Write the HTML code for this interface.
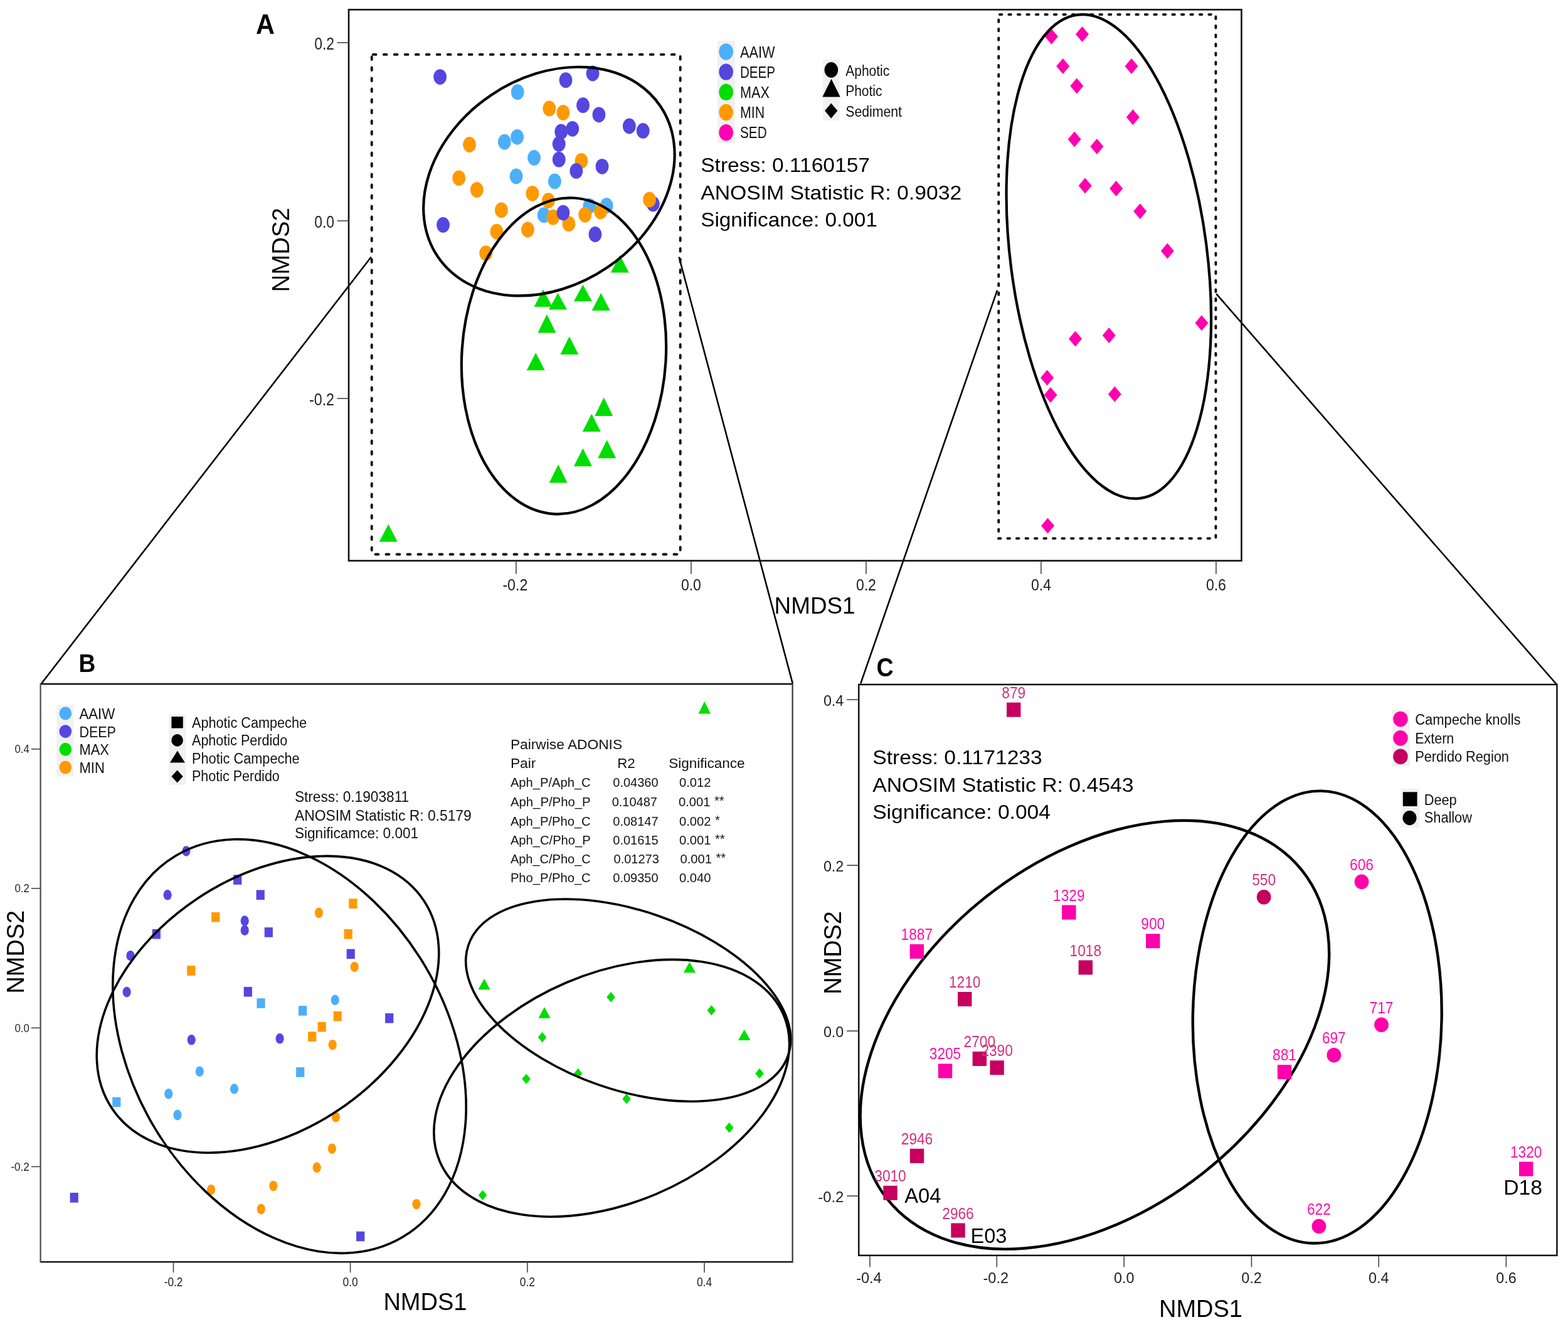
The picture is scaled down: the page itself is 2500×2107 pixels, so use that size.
<!DOCTYPE html><html><head><meta charset="utf-8"><title>NMDS</title><style>html,body{margin:0;padding:0;background:#fff;overflow:hidden}svg{display:block}text{font-family:"Liberation Sans",Arial,sans-serif}</style></head><body>
<svg width="2500" height="2107" viewBox="0 0 2500 2107">
<rect width="2500" height="2107" fill="#fff"/>
<line x1="591.8" y1="409.5" x2="66" y2="1089.5" stroke="#000" stroke-width="2.6"/>
<line x1="1082.6" y1="409.5" x2="1263.8" y2="1089.4" stroke="#000" stroke-width="2.6"/>
<line x1="1590" y1="462.6" x2="1372.2" y2="1089.4" stroke="#000" stroke-width="2.6"/>
<line x1="1939.3" y1="468.4" x2="2482" y2="1091" stroke="#000" stroke-width="2.6"/>
<rect x="556" y="15.4" width="1423.4" height="878.3" fill="none" stroke="#111" stroke-width="2.6"/>
<rect x="592.7" y="86.9" width="492" height="796.6" fill="none" stroke="#000" stroke-width="3.8" stroke-linecap="round" stroke-dasharray="4.8 12.2" stroke-dashoffset="-2"/>
<rect x="1592.2" y="23.1" width="346.2" height="835" fill="none" stroke="#000" stroke-width="3.8" stroke-linecap="round" stroke-dasharray="3.6 10.9" stroke-dashoffset="-1.6"/>
<line x1="537.5" y1="68" x2="556" y2="68" stroke="#444" stroke-width="1.6"/>
<line x1="537.5" y1="352" x2="556" y2="352" stroke="#444" stroke-width="1.6"/>
<line x1="537.5" y1="635.1" x2="556" y2="635.1" stroke="#444" stroke-width="1.6"/>
<line x1="822.9" y1="894.5" x2="822.9" y2="914.7" stroke="#444" stroke-width="1.6"/>
<line x1="1101.9" y1="894.5" x2="1101.9" y2="914.7" stroke="#444" stroke-width="1.6"/>
<line x1="1380.9" y1="894.5" x2="1380.9" y2="914.7" stroke="#444" stroke-width="1.6"/>
<line x1="1659.9" y1="894.5" x2="1659.9" y2="914.7" stroke="#444" stroke-width="1.6"/>
<line x1="1938.9" y1="894.5" x2="1938.9" y2="914.7" stroke="#444" stroke-width="1.6"/>
<text x="533" y="79.4" font-size="27" textLength="31.7" lengthAdjust="spacingAndGlyphs" text-anchor="end" fill="#222">0.2</text>
<text x="533" y="362.8" font-size="27" textLength="31.7" lengthAdjust="spacingAndGlyphs" text-anchor="end" fill="#222">0.0</text>
<text x="533" y="646.4" font-size="27" textLength="40" lengthAdjust="spacingAndGlyphs" text-anchor="end" fill="#222">-0.2</text>
<text x="821.4" y="941" font-size="26.5" textLength="40" lengthAdjust="spacingAndGlyphs" text-anchor="middle" fill="#222">-0.2</text>
<text x="1101.9" y="941" font-size="26.5" textLength="32" lengthAdjust="spacingAndGlyphs" text-anchor="middle" fill="#222">0.0</text>
<text x="1380.9" y="941" font-size="26.5" textLength="32" lengthAdjust="spacingAndGlyphs" text-anchor="middle" fill="#222">0.2</text>
<text x="1659.9" y="941" font-size="26.5" textLength="32" lengthAdjust="spacingAndGlyphs" text-anchor="middle" fill="#222">0.4</text>
<text x="1938.9" y="941" font-size="26.5" textLength="32" lengthAdjust="spacingAndGlyphs" text-anchor="middle" fill="#222">0.6</text>
<text x="1234.6" y="978.4" font-size="37.5" textLength="129" lengthAdjust="spacingAndGlyphs">NMDS1</text>
<text transform="translate(460.7 398.3) rotate(-90)" font-size="38.5" text-anchor="middle" textLength="134.5" lengthAdjust="spacingAndGlyphs">NMDS2</text>
<text x="408" y="54.4" font-size="44" textLength="30" lengthAdjust="spacingAndGlyphs" font-weight="bold">A</text>
<rect x="1144" y="65" width="28" height="163" fill="#F1F1F1"/>
<ellipse cx="1157.6" cy="82.4" rx="11.3" ry="13.2" fill="#4DAFFA"/>
<text x="1180" y="92" font-size="26" textLength="55.5" lengthAdjust="spacingAndGlyphs" fill="#111">AAIW</text>
<ellipse cx="1157.6" cy="114.6" rx="11.3" ry="13.2" fill="#5546E0"/>
<text x="1180" y="124.1" font-size="26" textLength="56" lengthAdjust="spacingAndGlyphs" fill="#111">DEEP</text>
<ellipse cx="1157.6" cy="146.8" rx="11.3" ry="13.2" fill="#00DD00"/>
<text x="1180" y="156.2" font-size="26" textLength="46.8" lengthAdjust="spacingAndGlyphs" fill="#111">MAX</text>
<ellipse cx="1157.6" cy="179" rx="11.3" ry="13.2" fill="#FF9900"/>
<text x="1180" y="188.3" font-size="26" textLength="39" lengthAdjust="spacingAndGlyphs" fill="#111">MIN</text>
<ellipse cx="1157.6" cy="211.2" rx="11.3" ry="13.2" fill="#FF00B0"/>
<text x="1180" y="220.4" font-size="26" textLength="42.6" lengthAdjust="spacingAndGlyphs" fill="#111">SED</text>
<rect x="1312.4" y="95" width="26.3" height="97" fill="#F1F1F1"/>
<ellipse cx="1325.3" cy="111.4" rx="10.8" ry="12.4" fill="#000"/>
<path d="M1325.5 125.8L1339.7 154.4L1311.3 154.4Z" fill="#000"/>
<path d="M1325.2 164.4L1335.4 176.6L1325.2 188.8L1315 176.6Z" fill="#000"/>
<text x="1348.3" y="120.6" font-size="23.5" textLength="69.9" lengthAdjust="spacingAndGlyphs" fill="#111">Aphotic</text>
<text x="1348.3" y="153.3" font-size="23.5" textLength="58.1" lengthAdjust="spacingAndGlyphs" fill="#111">Photic</text>
<text x="1348.3" y="185.6" font-size="23.5" textLength="89.7" lengthAdjust="spacingAndGlyphs" fill="#111">Sediment</text>
<text x="1117.2" y="273.7" font-size="31.5" textLength="269.8" lengthAdjust="spacingAndGlyphs">Stress: 0.1160157</text>
<text x="1117.2" y="317.8" font-size="31.5" textLength="416" lengthAdjust="spacingAndGlyphs">ANOSIM Statistic R: 0.9032</text>
<text x="1117.2" y="360.8" font-size="31.5" textLength="281.7" lengthAdjust="spacingAndGlyphs">Significance: 0.001</text>
<ellipse cx="701.6" cy="122.6" rx="10.4" ry="12.4" fill="#5546E0"/>
<ellipse cx="902" cy="127.7" rx="10.4" ry="12.4" fill="#5546E0"/>
<ellipse cx="945" cy="117" rx="10.4" ry="12.4" fill="#5546E0"/>
<ellipse cx="929.5" cy="167.7" rx="10.4" ry="12.4" fill="#5546E0"/>
<ellipse cx="954.9" cy="182.8" rx="10.4" ry="12.4" fill="#5546E0"/>
<ellipse cx="1003.3" cy="201" rx="10.4" ry="12.4" fill="#5546E0"/>
<ellipse cx="1025.2" cy="208.4" rx="10.4" ry="12.4" fill="#5546E0"/>
<ellipse cx="912.7" cy="205.3" rx="10.4" ry="12.4" fill="#5546E0"/>
<ellipse cx="894.7" cy="210" rx="10.4" ry="12.4" fill="#5546E0"/>
<ellipse cx="891.2" cy="229.4" rx="10.4" ry="12.4" fill="#5546E0"/>
<ellipse cx="891.2" cy="254.2" rx="10.4" ry="12.4" fill="#5546E0"/>
<ellipse cx="960" cy="265.3" rx="10.4" ry="12.4" fill="#5546E0"/>
<ellipse cx="706.5" cy="358.4" rx="10.4" ry="12.4" fill="#5546E0"/>
<ellipse cx="948.9" cy="373.5" rx="10.4" ry="12.4" fill="#5546E0"/>
<ellipse cx="1041.3" cy="325.1" rx="10.4" ry="12.4" fill="#5546E0"/>
<ellipse cx="825.2" cy="146.7" rx="10.4" ry="12.4" fill="#4DAFFA"/>
<ellipse cx="824.6" cy="218.3" rx="10.4" ry="12.4" fill="#4DAFFA"/>
<ellipse cx="804.4" cy="226.2" rx="10.4" ry="12.4" fill="#4DAFFA"/>
<ellipse cx="851.5" cy="251.4" rx="10.4" ry="12.4" fill="#4DAFFA"/>
<ellipse cx="823.1" cy="281" rx="10.4" ry="12.4" fill="#4DAFFA"/>
<ellipse cx="884.4" cy="289" rx="10.4" ry="12.4" fill="#4DAFFA"/>
<ellipse cx="867.2" cy="342.7" rx="10.4" ry="12.4" fill="#4DAFFA"/>
<ellipse cx="939.8" cy="328.3" rx="10.4" ry="12.4" fill="#4DAFFA"/>
<ellipse cx="967.1" cy="327.7" rx="10.4" ry="12.4" fill="#4DAFFA"/>
<ellipse cx="875.8" cy="172.9" rx="10.4" ry="12.4" fill="#FF9900"/>
<ellipse cx="897.9" cy="179.5" rx="10.4" ry="12.4" fill="#FF9900"/>
<ellipse cx="748.5" cy="230.5" rx="10.4" ry="12.4" fill="#FF9900"/>
<ellipse cx="731.7" cy="283.8" rx="10.4" ry="12.4" fill="#FF9900"/>
<ellipse cx="760.3" cy="302.5" rx="10.4" ry="12.4" fill="#FF9900"/>
<ellipse cx="848.9" cy="308.3" rx="10.4" ry="12.4" fill="#FF9900"/>
<ellipse cx="926.9" cy="256.3" rx="10.4" ry="12.4" fill="#FF9900"/>
<ellipse cx="874.3" cy="319.7" rx="10.4" ry="12.4" fill="#FF9900"/>
<ellipse cx="799.4" cy="334.8" rx="10.4" ry="12.4" fill="#FF9900"/>
<ellipse cx="881.8" cy="346.2" rx="10.4" ry="12.4" fill="#FF9900"/>
<ellipse cx="906.9" cy="356.7" rx="10.4" ry="12.4" fill="#FF9900"/>
<ellipse cx="932.7" cy="342.3" rx="10.4" ry="12.4" fill="#FF9900"/>
<ellipse cx="957.5" cy="336.9" rx="10.4" ry="12.4" fill="#FF9900"/>
<ellipse cx="1035.5" cy="318.2" rx="10.4" ry="12.4" fill="#FF9900"/>
<ellipse cx="791.9" cy="369.2" rx="10.4" ry="12.4" fill="#FF9900"/>
<ellipse cx="841.4" cy="366" rx="10.4" ry="12.4" fill="#FF9900"/>
<ellipse cx="774.7" cy="403.6" rx="10.4" ry="12.4" fill="#FF9900"/>
<ellipse cx="918.8" cy="272.4" rx="10.4" ry="12.4" fill="#5546E0"/>
<ellipse cx="897.9" cy="339.1" rx="10.4" ry="12.4" fill="#5546E0"/>
<path d="M988.3 406.5L1002.8 434.5L973.8 434.5Z" fill="#00DD00"/>
<path d="M866 461L880.5 489L851.5 489Z" fill="#00DD00"/>
<path d="M889.5 467L904 493.5L875 493.5Z" fill="#00DD00"/>
<path d="M929.4 453.7L943.9 480.2L914.9 480.2Z" fill="#00DD00"/>
<path d="M958.2 467L972.7 495L943.7 495Z" fill="#00DD00"/>
<path d="M871.9 500.9L886.4 530.4L857.4 530.4Z" fill="#00DD00"/>
<path d="M907.8 536.3L922.3 565.1L893.3 565.1Z" fill="#00DD00"/>
<path d="M854.2 562.2L868.7 590.2L839.7 590.2Z" fill="#00DD00"/>
<path d="M962.7 633.5L977.2 663L948.2 663Z" fill="#00DD00"/>
<path d="M943.2 659.5L957.7 688L928.7 688Z" fill="#00DD00"/>
<path d="M967.7 701.3L982.2 730.2L953.2 730.2Z" fill="#00DD00"/>
<path d="M929.4 714.6L943.9 743.2L914.9 743.2Z" fill="#00DD00"/>
<path d="M890.1 740.3L904.6 769.5L875.6 769.5Z" fill="#00DD00"/>
<path d="M619.2 835.5L633.7 863.5L604.7 863.5Z" fill="#00DD00"/>
<path d="M1676.4 45.7L1686.9 58.2L1676.4 70.7L1665.9 58.2Z" fill="#FF00B0"/>
<path d="M1725.5 42L1736 54.5L1725.5 67L1715 54.5Z" fill="#FF00B0"/>
<path d="M1694.7 93L1705.2 105.5L1694.7 118L1684.2 105.5Z" fill="#FF00B0"/>
<path d="M1804 93L1814.5 105.5L1804 118L1793.5 105.5Z" fill="#FF00B0"/>
<path d="M1716.8 124.6L1727.3 137.1L1716.8 149.6L1706.3 137.1Z" fill="#FF00B0"/>
<path d="M1806.3 174.2L1816.8 186.7L1806.3 199.2L1795.8 186.7Z" fill="#FF00B0"/>
<path d="M1713.1 209.5L1723.6 222L1713.1 234.5L1702.6 222Z" fill="#FF00B0"/>
<path d="M1748.9 221L1759.4 233.5L1748.9 246L1738.4 233.5Z" fill="#FF00B0"/>
<path d="M1730.1 283.4L1740.6 295.9L1730.1 308.4L1719.6 295.9Z" fill="#FF00B0"/>
<path d="M1779.6 288L1790.1 300.5L1779.6 313L1769.1 300.5Z" fill="#FF00B0"/>
<path d="M1817.7 324.3L1828.2 336.8L1817.7 349.3L1807.2 336.8Z" fill="#FF00B0"/>
<path d="M1861.3 387.6L1871.8 400.1L1861.3 412.6L1850.8 400.1Z" fill="#FF00B0"/>
<path d="M1915.9 502.3L1926.4 514.8L1915.9 527.3L1905.4 514.8Z" fill="#FF00B0"/>
<path d="M1714.5 527.5L1725 540L1714.5 552.5L1704 540Z" fill="#FF00B0"/>
<path d="M1768.2 522L1778.7 534.5L1768.2 547L1757.7 534.5Z" fill="#FF00B0"/>
<path d="M1669.5 589.5L1680 602L1669.5 614.5L1659 602Z" fill="#FF00B0"/>
<path d="M1675 617L1685.5 629.5L1675 642L1664.5 629.5Z" fill="#FF00B0"/>
<path d="M1777.3 615.7L1787.8 628.2L1777.3 640.7L1766.8 628.2Z" fill="#FF00B0"/>
<path d="M1670.5 825.6L1681 838.1L1670.5 850.6L1660 838.1Z" fill="#FF00B0"/>
<ellipse cx="875.4" cy="289.1" rx="214.2" ry="165.7" transform="rotate(145.9 875.4 289.1)" fill="none" stroke="#000" stroke-width="4.2"/>
<ellipse cx="899" cy="567.3" rx="252.3" ry="162.7" transform="rotate(-86.3 899 567.3)" fill="none" stroke="#000" stroke-width="4.2"/>
<ellipse cx="1767.8" cy="408.9" rx="388.5" ry="156.7" transform="rotate(-97.4 1767.8 408.9)" fill="none" stroke="#000" stroke-width="4.2"/>
<line x1="64.6" y1="1090.1" x2="1263.8" y2="1090.1" stroke="#1a1a1a" stroke-width="2.6"/>
<line x1="64.6" y1="2011.3" x2="1263.8" y2="2011.3" stroke="#1a1a1a" stroke-width="2.6"/>
<line x1="64.6" y1="1088.8" x2="64.6" y2="2012.6" stroke="#505050" stroke-width="2.3"/>
<line x1="1263.6" y1="1088.8" x2="1263.6" y2="2012.6" stroke="#3c3c3c" stroke-width="2.3"/>
<line x1="50" y1="1193.9" x2="64.8" y2="1193.9" stroke="#444" stroke-width="1.6"/>
<line x1="50" y1="1416" x2="64.8" y2="1416" stroke="#444" stroke-width="1.6"/>
<line x1="50" y1="1638.3" x2="64.8" y2="1638.3" stroke="#444" stroke-width="1.6"/>
<line x1="50" y1="1859.4" x2="64.8" y2="1859.4" stroke="#444" stroke-width="1.6"/>
<line x1="276.5" y1="2012.5" x2="276.5" y2="2028.3" stroke="#444" stroke-width="1.6"/>
<line x1="558.6" y1="2012.5" x2="558.6" y2="2028.3" stroke="#444" stroke-width="1.6"/>
<line x1="840.9" y1="2012.5" x2="840.9" y2="2028.3" stroke="#444" stroke-width="1.6"/>
<line x1="1123" y1="2012.5" x2="1123" y2="2028.3" stroke="#444" stroke-width="1.6"/>
<text x="46.8" y="1200.1" font-size="17.5" textLength="23.4" lengthAdjust="spacingAndGlyphs" text-anchor="end" fill="#222">0.4</text>
<text x="46.8" y="1422.2" font-size="17.5" textLength="23.4" lengthAdjust="spacingAndGlyphs" text-anchor="end" fill="#222">0.2</text>
<text x="46.8" y="1644.5" font-size="17.5" textLength="23.4" lengthAdjust="spacingAndGlyphs" text-anchor="end" fill="#222">0.0</text>
<text x="46.8" y="1865.6" font-size="17.5" textLength="29.4" lengthAdjust="spacingAndGlyphs" text-anchor="end" fill="#222">-0.2</text>
<text x="276.5" y="2049.7" font-size="20" textLength="29.7" lengthAdjust="spacingAndGlyphs" text-anchor="middle" fill="#222">-0.2</text>
<text x="558.6" y="2049.7" font-size="20" textLength="24.1" lengthAdjust="spacingAndGlyphs" text-anchor="middle" fill="#222">0.0</text>
<text x="840.9" y="2049.7" font-size="20" textLength="24.1" lengthAdjust="spacingAndGlyphs" text-anchor="middle" fill="#222">0.2</text>
<text x="1123" y="2049.7" font-size="20" textLength="24.1" lengthAdjust="spacingAndGlyphs" text-anchor="middle" fill="#222">0.4</text>
<text x="611.4" y="2088.1" font-size="38" textLength="133" lengthAdjust="spacingAndGlyphs">NMDS1</text>
<text transform="translate(38.3 1517.2) rotate(-90)" font-size="38.5" text-anchor="middle" textLength="132.7" lengthAdjust="spacingAndGlyphs">NMDS2</text>
<text x="125.4" y="1070.8" font-size="40.5" textLength="26.8" lengthAdjust="spacingAndGlyphs" font-weight="bold">B</text>
<rect x="90.3" y="1123.7" width="26.7" height="113.7" fill="#F1F1F1"/>
<ellipse cx="104.3" cy="1137" rx="9.8" ry="10.5" fill="#4DAFFA"/>
<text x="126.4" y="1146.4" font-size="23" textLength="56.9" lengthAdjust="spacingAndGlyphs" fill="#111">AAIW</text>
<ellipse cx="104.3" cy="1165.7" rx="9.8" ry="10.5" fill="#5546E0"/>
<text x="126.4" y="1174.8" font-size="23" textLength="58.5" lengthAdjust="spacingAndGlyphs" fill="#111">DEEP</text>
<ellipse cx="104.3" cy="1194.3" rx="9.8" ry="10.5" fill="#00DD00"/>
<text x="126.4" y="1203.3" font-size="23" textLength="47.5" lengthAdjust="spacingAndGlyphs" fill="#111">MAX</text>
<ellipse cx="104.3" cy="1223" rx="9.8" ry="10.5" fill="#FF9900"/>
<text x="126.4" y="1231.7" font-size="23" textLength="40.5" lengthAdjust="spacingAndGlyphs" fill="#111">MIN</text>
<rect x="269.2" y="1138.7" width="26.8" height="112.1" fill="#F1F1F1"/>
<rect x="273.4" y="1142.2" width="18.4" height="18.4" fill="#000"/>
<ellipse cx="282.6" cy="1179.9" rx="9.3" ry="9.8" fill="#000"/>
<path d="M282.9 1196.6L294.9 1215.6L270.9 1215.6Z" fill="#000"/>
<path d="M282.6 1227.4L291.8 1237.4L282.6 1247.4L273.4 1237.4Z" fill="#000"/>
<text x="306" y="1159.8" font-size="23" textLength="183" lengthAdjust="spacingAndGlyphs" fill="#111">Aphotic Campeche</text>
<text x="306" y="1188.2" font-size="23" textLength="152.2" lengthAdjust="spacingAndGlyphs" fill="#111">Aphotic Perdido</text>
<text x="306" y="1216.7" font-size="23" textLength="171.6" lengthAdjust="spacingAndGlyphs" fill="#111">Photic Campeche</text>
<text x="306" y="1245.1" font-size="23" textLength="139.8" lengthAdjust="spacingAndGlyphs" fill="#111">Photic Perdido</text>
<text x="469.9" y="1277.5" font-size="23" textLength="182.3" lengthAdjust="spacingAndGlyphs" fill="#111">Stress: 0.1903811</text>
<text x="469.9" y="1307.6" font-size="23" textLength="281.9" lengthAdjust="spacingAndGlyphs" fill="#111">ANOSIM Statistic R: 0.5179</text>
<text x="469.9" y="1336" font-size="23" textLength="197.3" lengthAdjust="spacingAndGlyphs" fill="#111">Significamce: 0.001</text>
<text x="813.9" y="1193.5" font-size="22" textLength="178.2" lengthAdjust="spacingAndGlyphs" fill="#111">Pairwise ADONIS</text>
<text x="813.9" y="1224.4" font-size="22" textLength="40.5" lengthAdjust="spacingAndGlyphs" fill="#111">Pair</text>
<text x="984.2" y="1224.4" font-size="22" textLength="28.5" lengthAdjust="spacingAndGlyphs" fill="#111">R2</text>
<text x="1066.2" y="1224.4" font-size="22" textLength="121.4" lengthAdjust="spacingAndGlyphs" fill="#111">Significance</text>
<text x="813.9" y="1254.4" font-size="20.2" textLength="127.8" lengthAdjust="spacingAndGlyphs" fill="#111">Aph_P/Aph_C</text>
<text x="977.3" y="1254.4" font-size="20.2" textLength="72.2" lengthAdjust="spacingAndGlyphs" fill="#111">0.04360</text>
<text x="1083" y="1254.4" font-size="20.2" textLength="50.5" lengthAdjust="spacingAndGlyphs" fill="#111">0.012</text>
<text x="813.9" y="1285" font-size="20.2" textLength="127.8" lengthAdjust="spacingAndGlyphs" fill="#111">Aph_P/Pho_P</text>
<text x="975.7" y="1285" font-size="20.2" textLength="72.2" lengthAdjust="spacingAndGlyphs" fill="#111">0.10487</text>
<text x="1082" y="1285" font-size="20.2" textLength="50.5" lengthAdjust="spacingAndGlyphs" fill="#111">0.001</text>
<text x="1139" y="1283" font-size="20.2" fill="#111">**</text>
<text x="813.9" y="1315.6" font-size="20.2" textLength="127.8" lengthAdjust="spacingAndGlyphs" fill="#111">Aph_P/Pho_C</text>
<text x="977.3" y="1315.6" font-size="20.2" textLength="72.2" lengthAdjust="spacingAndGlyphs" fill="#111">0.08147</text>
<text x="1083" y="1315.6" font-size="20.2" textLength="50.5" lengthAdjust="spacingAndGlyphs" fill="#111">0.002</text>
<text x="1140" y="1313.6" font-size="20.2" fill="#111">*</text>
<text x="813.9" y="1345.8" font-size="20.2" textLength="127.8" lengthAdjust="spacingAndGlyphs" fill="#111">Aph_C/Pho_P</text>
<text x="977.3" y="1345.8" font-size="20.2" textLength="72.2" lengthAdjust="spacingAndGlyphs" fill="#111">0.01615</text>
<text x="1083" y="1345.8" font-size="20.2" textLength="50.5" lengthAdjust="spacingAndGlyphs" fill="#111">0.001</text>
<text x="1140" y="1343.8" font-size="20.2" fill="#111">**</text>
<text x="813.9" y="1376.4" font-size="20.2" textLength="127.8" lengthAdjust="spacingAndGlyphs" fill="#111">Aph_C/Pho_C</text>
<text x="978.6" y="1376.4" font-size="20.2" textLength="72.2" lengthAdjust="spacingAndGlyphs" fill="#111">0.01273</text>
<text x="1084.5" y="1376.4" font-size="20.2" textLength="50.5" lengthAdjust="spacingAndGlyphs" fill="#111">0.001</text>
<text x="1141.5" y="1374.4" font-size="20.2" fill="#111">**</text>
<text x="813.9" y="1406.4" font-size="20.2" textLength="127.8" lengthAdjust="spacingAndGlyphs" fill="#111">Pho_P/Pho_C</text>
<text x="977.3" y="1406.4" font-size="20.2" textLength="72.2" lengthAdjust="spacingAndGlyphs" fill="#111">0.09350</text>
<text x="1083" y="1406.4" font-size="20.2" textLength="50.5" lengthAdjust="spacingAndGlyphs" fill="#111">0.040</text>
<ellipse cx="296.9" cy="1356.5" rx="6.6" ry="8.3" fill="#5546E0"/>
<ellipse cx="267.1" cy="1426.3" rx="6.6" ry="8.3" fill="#5546E0"/>
<ellipse cx="390.2" cy="1467.6" rx="6.6" ry="8.3" fill="#5546E0"/>
<ellipse cx="390.2" cy="1482.7" rx="6.6" ry="8.3" fill="#5546E0"/>
<ellipse cx="208" cy="1523.2" rx="6.6" ry="8.3" fill="#5546E0"/>
<ellipse cx="202.1" cy="1581.1" rx="6.6" ry="8.3" fill="#5546E0"/>
<ellipse cx="305.2" cy="1657.3" rx="6.6" ry="8.3" fill="#5546E0"/>
<ellipse cx="446.1" cy="1655.3" rx="6.6" ry="8.3" fill="#5546E0"/>
<ellipse cx="508.4" cy="1454.9" rx="6.6" ry="8.3" fill="#FF9900"/>
<ellipse cx="565.2" cy="1541" rx="6.6" ry="8.3" fill="#FF9900"/>
<ellipse cx="530.2" cy="1665.2" rx="6.6" ry="8.3" fill="#FF9900"/>
<ellipse cx="535.4" cy="1780.3" rx="6.6" ry="8.3" fill="#FF9900"/>
<ellipse cx="529.4" cy="1830.7" rx="6.6" ry="8.3" fill="#FF9900"/>
<ellipse cx="505.2" cy="1860.9" rx="6.6" ry="8.3" fill="#FF9900"/>
<ellipse cx="435.8" cy="1890.2" rx="6.6" ry="8.3" fill="#FF9900"/>
<ellipse cx="336.6" cy="1896.2" rx="6.6" ry="8.3" fill="#FF9900"/>
<ellipse cx="416.3" cy="1927.1" rx="6.6" ry="8.3" fill="#FF9900"/>
<ellipse cx="664" cy="1919.2" rx="6.6" ry="8.3" fill="#FF9900"/>
<ellipse cx="534.2" cy="1593.8" rx="6.6" ry="8.3" fill="#4DAFFA"/>
<ellipse cx="318.3" cy="1707.7" rx="6.6" ry="8.3" fill="#4DAFFA"/>
<ellipse cx="373.5" cy="1735.5" rx="6.6" ry="8.3" fill="#4DAFFA"/>
<ellipse cx="268.7" cy="1743.4" rx="6.6" ry="8.3" fill="#4DAFFA"/>
<ellipse cx="283" cy="1777.1" rx="6.6" ry="8.3" fill="#4DAFFA"/>
<rect x="372.1" y="1394.3" width="13.2" height="15.6" fill="#5546E0"/>
<rect x="408.6" y="1418.5" width="13.2" height="15.6" fill="#5546E0"/>
<rect x="242.7" y="1480.9" width="13.2" height="15.6" fill="#5546E0"/>
<rect x="421.7" y="1478.1" width="13.2" height="15.6" fill="#5546E0"/>
<rect x="552.6" y="1512.6" width="13.2" height="15.6" fill="#5546E0"/>
<rect x="388.7" y="1572.9" width="13.2" height="15.6" fill="#5546E0"/>
<rect x="614.1" y="1615" width="13.2" height="15.6" fill="#5546E0"/>
<rect x="111.6" y="1901" width="13.2" height="15.6" fill="#5546E0"/>
<rect x="568.1" y="1962.7" width="13.2" height="15.6" fill="#5546E0"/>
<rect x="337.1" y="1453.9" width="13.2" height="15.6" fill="#FF9900"/>
<rect x="556.2" y="1432.4" width="13.2" height="15.6" fill="#FF9900"/>
<rect x="548.6" y="1480.9" width="13.2" height="15.6" fill="#FF9900"/>
<rect x="298.2" y="1539.2" width="13.2" height="15.6" fill="#FF9900"/>
<rect x="531.6" y="1611.8" width="13.2" height="15.6" fill="#FF9900"/>
<rect x="506.6" y="1628.9" width="13.2" height="15.6" fill="#FF9900"/>
<rect x="491.1" y="1644.3" width="13.2" height="15.6" fill="#FF9900"/>
<rect x="409.4" y="1591.2" width="13.2" height="15.6" fill="#4DAFFA"/>
<rect x="476" y="1603.1" width="13.2" height="15.6" fill="#4DAFFA"/>
<rect x="472.1" y="1701.1" width="13.2" height="15.6" fill="#4DAFFA"/>
<rect x="179.2" y="1748.7" width="13.2" height="15.6" fill="#4DAFFA"/>
<path d="M772 1559.7L781.6 1577.3L762.4 1577.3Z" fill="#00DD00"/>
<path d="M868 1604.9L877.6 1622.7L858.4 1622.7Z" fill="#00DD00"/>
<path d="M1099.4 1533.2L1109.1 1550.3L1089.8 1550.3Z" fill="#00DD00"/>
<path d="M1186.7 1640.7L1196.4 1657.9L1177 1657.9Z" fill="#00DD00"/>
<path d="M1123.3 1117.8L1133 1137.4L1113.6 1137.4Z" fill="#00DD00"/>
<path d="M974 1581.1L980.8 1589.3L974 1597.5L967.2 1589.3Z" fill="#00DD00"/>
<path d="M1134.3 1602L1141.1 1610.2L1134.3 1618.4L1127.5 1610.2Z" fill="#00DD00"/>
<path d="M864.6 1645L871.4 1653.2L864.6 1661.4L857.8 1653.2Z" fill="#00DD00"/>
<path d="M839 1711.4L845.8 1719.6L839 1727.8L832.2 1719.6Z" fill="#00DD00"/>
<path d="M921.7 1702.7L928.5 1710.9L921.7 1719.1L914.9 1710.9Z" fill="#00DD00"/>
<path d="M999 1743.2L1005.8 1751.4L999 1759.6L992.2 1751.4Z" fill="#00DD00"/>
<path d="M1211 1702.7L1217.8 1710.9L1211 1719.1L1204.2 1710.9Z" fill="#00DD00"/>
<path d="M1162.7 1789.1L1169.5 1797.3L1162.7 1805.5L1155.9 1797.3Z" fill="#00DD00"/>
<path d="M769.5 1896.7L776.3 1904.9L769.5 1913.1L762.7 1904.9Z" fill="#00DD00"/>
<ellipse cx="461.5" cy="1667.5" rx="353.6" ry="251.2" transform="rotate(-120.8 461.5 1667.5)" fill="none" stroke="#000" stroke-width="3.6"/>
<ellipse cx="427" cy="1600.8" rx="298.7" ry="202.6" transform="rotate(146.3 427 1600.8)" fill="none" stroke="#000" stroke-width="3.6"/>
<ellipse cx="1001.7" cy="1594.2" rx="269.6" ry="142.8" transform="rotate(-160.9 1001.7 1594.2)" fill="none" stroke="#000" stroke-width="3.6"/>
<ellipse cx="975.2" cy="1734.3" rx="297.9" ry="183.1" transform="rotate(157 975.2 1734.3)" fill="none" stroke="#000" stroke-width="3.6"/>
<rect x="1369.2" y="1091" width="1113.2" height="909.9" fill="none" stroke="#111" stroke-width="2.5"/>
<line x1="1350.2" y1="1115.1" x2="1369.2" y2="1115.1" stroke="#444" stroke-width="1.6"/>
<line x1="1350.2" y1="1379.2" x2="1369.2" y2="1379.2" stroke="#444" stroke-width="1.6"/>
<line x1="1350.2" y1="1643.2" x2="1369.2" y2="1643.2" stroke="#444" stroke-width="1.6"/>
<line x1="1350.2" y1="1906.1" x2="1369.2" y2="1906.1" stroke="#444" stroke-width="1.6"/>
<line x1="1386.9" y1="2002.2" x2="1386.9" y2="2019.5" stroke="#444" stroke-width="1.6"/>
<line x1="1589.3" y1="2002.2" x2="1589.3" y2="2019.5" stroke="#444" stroke-width="1.6"/>
<line x1="1792.2" y1="2002.2" x2="1792.2" y2="2019.5" stroke="#444" stroke-width="1.6"/>
<line x1="1995.4" y1="2002.2" x2="1995.4" y2="2019.5" stroke="#444" stroke-width="1.6"/>
<line x1="2198.2" y1="2002.2" x2="2198.2" y2="2019.5" stroke="#444" stroke-width="1.6"/>
<line x1="2401.4" y1="2002.2" x2="2401.4" y2="2019.5" stroke="#444" stroke-width="1.6"/>
<text x="1345.3" y="1124.6" font-size="24" textLength="32.4" lengthAdjust="spacingAndGlyphs" text-anchor="end" fill="#222">0.4</text>
<text x="1345.3" y="1388.7" font-size="24" textLength="32.4" lengthAdjust="spacingAndGlyphs" text-anchor="end" fill="#222">0.2</text>
<text x="1345.3" y="1652.7" font-size="24" textLength="32.4" lengthAdjust="spacingAndGlyphs" text-anchor="end" fill="#222">0.0</text>
<text x="1345.3" y="1915.6" font-size="24" textLength="41" lengthAdjust="spacingAndGlyphs" text-anchor="end" fill="#222">-0.2</text>
<text x="1385.4" y="2044.7" font-size="24" textLength="40.5" lengthAdjust="spacingAndGlyphs" text-anchor="middle" fill="#222">-0.4</text>
<text x="1587.8" y="2044.7" font-size="24" textLength="40.5" lengthAdjust="spacingAndGlyphs" text-anchor="middle" fill="#222">-0.2</text>
<text x="1792.2" y="2044.7" font-size="24" textLength="32.5" lengthAdjust="spacingAndGlyphs" text-anchor="middle" fill="#222">0.0</text>
<text x="1995.4" y="2044.7" font-size="24" textLength="32.5" lengthAdjust="spacingAndGlyphs" text-anchor="middle" fill="#222">0.2</text>
<text x="2198.2" y="2044.7" font-size="24" textLength="32.5" lengthAdjust="spacingAndGlyphs" text-anchor="middle" fill="#222">0.4</text>
<text x="2401.4" y="2044.7" font-size="24" textLength="32.5" lengthAdjust="spacingAndGlyphs" text-anchor="middle" fill="#222">0.6</text>
<text x="1848" y="2099.3" font-size="38" textLength="133" lengthAdjust="spacingAndGlyphs">NMDS1</text>
<text transform="translate(1340.5 1518.4) rotate(-90)" font-size="38.5" text-anchor="middle" textLength="132.7" lengthAdjust="spacingAndGlyphs">NMDS2</text>
<text x="1397.5" y="1078.2" font-size="42" textLength="27.2" lengthAdjust="spacingAndGlyphs" font-weight="bold">C</text>
<text x="1391.2" y="1218.3" font-size="31" textLength="270.6" lengthAdjust="spacingAndGlyphs">Stress: 0.1171233</text>
<text x="1391.2" y="1262.2" font-size="31" textLength="416.3" lengthAdjust="spacingAndGlyphs">ANOSIM Statistic R: 0.4543</text>
<text x="1391.2" y="1305.2" font-size="31" textLength="283.8" lengthAdjust="spacingAndGlyphs">Significance: 0.004</text>
<rect x="2219.6" y="1131.2" width="27.9" height="90.1" fill="#F1F1F1"/>
<ellipse cx="2232.9" cy="1146.1" rx="11.7" ry="12.4" fill="#FF00AA"/>
<text x="2256.2" y="1154.5" font-size="23.5" textLength="168.3" lengthAdjust="spacingAndGlyphs" fill="#111">Campeche knolls</text>
<ellipse cx="2232.9" cy="1176.3" rx="11.7" ry="12.4" fill="#FF00AA"/>
<text x="2256.2" y="1185" font-size="23.5" textLength="62.1" lengthAdjust="spacingAndGlyphs" fill="#111">Extern</text>
<ellipse cx="2232.9" cy="1205.8" rx="11.7" ry="12.4" fill="#C5005E"/>
<text x="2256.2" y="1214.2" font-size="23.5" textLength="149.7" lengthAdjust="spacingAndGlyphs" fill="#111">Perdido Region</text>
<rect x="2233.5" y="1257" width="29.5" height="62" fill="#F1F1F1"/>
<rect x="2236.8" y="1262.3" width="22.7" height="22.7" fill="#000"/>
<ellipse cx="2247.5" cy="1303.6" rx="11" ry="11.6" fill="#000"/>
<text x="2270.8" y="1282.5" font-size="23.5" textLength="51.9" lengthAdjust="spacingAndGlyphs" fill="#111">Deep</text>
<text x="2270.8" y="1311.4" font-size="23.5" textLength="76.1" lengthAdjust="spacingAndGlyphs" fill="#111">Shallow</text>
<ellipse cx="1745.4" cy="1649.3" rx="421.8" ry="280" transform="rotate(141.7 1745.4 1649.3)" fill="none" stroke="#000" stroke-width="4.4"/>
<ellipse cx="2100.2" cy="1621.1" rx="360.5" ry="198.4" transform="rotate(-89 2100.2 1621.1)" fill="none" stroke="#000" stroke-width="4.4"/>
<rect x="1605" y="1119.7" width="22.4" height="23" fill="#C5005E"/>
<rect x="1450.6" y="1504.9" width="22.4" height="23" fill="#FF00AA"/>
<rect x="1693.1" y="1442.6" width="22.4" height="23" fill="#FF00AA"/>
<rect x="1827" y="1488.3" width="22.4" height="23" fill="#FF00AA"/>
<rect x="1719.6" y="1530.5" width="22.4" height="23" fill="#C5005E"/>
<rect x="1527" y="1580.9" width="22.4" height="23" fill="#C5005E"/>
<rect x="1495.8" y="1695.4" width="22.4" height="23" fill="#FF00AA"/>
<rect x="1578.4" y="1690.2" width="22.4" height="23" fill="#C5005E"/>
<rect x="1550.6" y="1676" width="22.4" height="23" fill="#C5005E"/>
<rect x="1450.8" y="1830.8" width="22.4" height="23" fill="#C5005E"/>
<rect x="1408.3" y="1889.8" width="22.4" height="23" fill="#C5005E"/>
<rect x="1516.3" y="1949.5" width="22.4" height="23" fill="#C5005E"/>
<ellipse cx="2015.1" cy="1429.8" rx="11.4" ry="11.8" fill="#C5005E"/>
<ellipse cx="2171" cy="1405.3" rx="11.4" ry="11.8" fill="#FF00AA"/>
<ellipse cx="2202.5" cy="1633.3" rx="11.4" ry="11.8" fill="#FF00AA"/>
<ellipse cx="2126.8" cy="1681.7" rx="11.4" ry="11.8" fill="#FF00AA"/>
<rect x="2036.8" y="1697.1" width="22.4" height="23" fill="#FF00AA"/>
<ellipse cx="2102.9" cy="1954.5" rx="11.4" ry="11.8" fill="#FF00AA"/>
<rect x="2422" y="1851.6" width="22.4" height="23" fill="#FF00AA"/>
<text x="1616.2" y="1112.7" font-size="25.5" textLength="37.8" lengthAdjust="spacingAndGlyphs" text-anchor="middle" fill="#D2307A">879</text>
<text x="1461.8" y="1497.9" font-size="25.5" textLength="50.4" lengthAdjust="spacingAndGlyphs" text-anchor="middle" fill="#FF10AA">1887</text>
<text x="1704.3" y="1435.6" font-size="25.5" textLength="50.4" lengthAdjust="spacingAndGlyphs" text-anchor="middle" fill="#FF10AA">1329</text>
<text x="1838.2" y="1481.3" font-size="25.5" textLength="37.8" lengthAdjust="spacingAndGlyphs" text-anchor="middle" fill="#FF10AA">900</text>
<text x="1730.8" y="1523.5" font-size="25.5" textLength="50.4" lengthAdjust="spacingAndGlyphs" text-anchor="middle" fill="#D2307A">1018</text>
<text x="1538.2" y="1573.9" font-size="25.5" textLength="50.4" lengthAdjust="spacingAndGlyphs" text-anchor="middle" fill="#D2307A">1210</text>
<text x="1507" y="1688.4" font-size="25.5" textLength="50.4" lengthAdjust="spacingAndGlyphs" text-anchor="middle" fill="#FF10AA">3205</text>
<text x="1589.6" y="1683.2" font-size="25.5" textLength="50.4" lengthAdjust="spacingAndGlyphs" text-anchor="middle" fill="#D2307A">2390</text>
<text x="1561.8" y="1669" font-size="25.5" textLength="50.4" lengthAdjust="spacingAndGlyphs" text-anchor="middle" fill="#D2307A">2700</text>
<text x="1462" y="1823.8" font-size="25.5" textLength="50.4" lengthAdjust="spacingAndGlyphs" text-anchor="middle" fill="#D2307A">2946</text>
<text x="1419.5" y="1882.8" font-size="25.5" textLength="50.4" lengthAdjust="spacingAndGlyphs" text-anchor="middle" fill="#D2307A">3010</text>
<text x="1527.5" y="1942.5" font-size="25.5" textLength="50.4" lengthAdjust="spacingAndGlyphs" text-anchor="middle" fill="#D2307A">2966</text>
<text x="2015.1" y="1411.3" font-size="25.5" textLength="37.8" lengthAdjust="spacingAndGlyphs" text-anchor="middle" fill="#D2307A">550</text>
<text x="2171" y="1386.8" font-size="25.5" textLength="37.8" lengthAdjust="spacingAndGlyphs" text-anchor="middle" fill="#FF10AA">606</text>
<text x="2202.5" y="1614.8" font-size="25.5" textLength="37.8" lengthAdjust="spacingAndGlyphs" text-anchor="middle" fill="#FF10AA">717</text>
<text x="2126.8" y="1663.2" font-size="25.5" textLength="37.8" lengthAdjust="spacingAndGlyphs" text-anchor="middle" fill="#FF10AA">697</text>
<text x="2048" y="1690.1" font-size="25.5" textLength="37.8" lengthAdjust="spacingAndGlyphs" text-anchor="middle" fill="#FF10AA">881</text>
<text x="2102.9" y="1936" font-size="25.5" textLength="37.8" lengthAdjust="spacingAndGlyphs" text-anchor="middle" fill="#FF10AA">622</text>
<text x="2433.2" y="1844.6" font-size="25.5" textLength="50.4" lengthAdjust="spacingAndGlyphs" text-anchor="middle" fill="#FF10AA">1320</text>
<text x="1442.2" y="1917.2" font-size="33.5" textLength="58.1" lengthAdjust="spacingAndGlyphs">A04</text>
<text x="1547.6" y="1980.6" font-size="33.5" textLength="57.8" lengthAdjust="spacingAndGlyphs">E03</text>
<text x="2397.3" y="1903.5" font-size="33.5" textLength="61.8" lengthAdjust="spacingAndGlyphs">D18</text>
</svg></body></html>
